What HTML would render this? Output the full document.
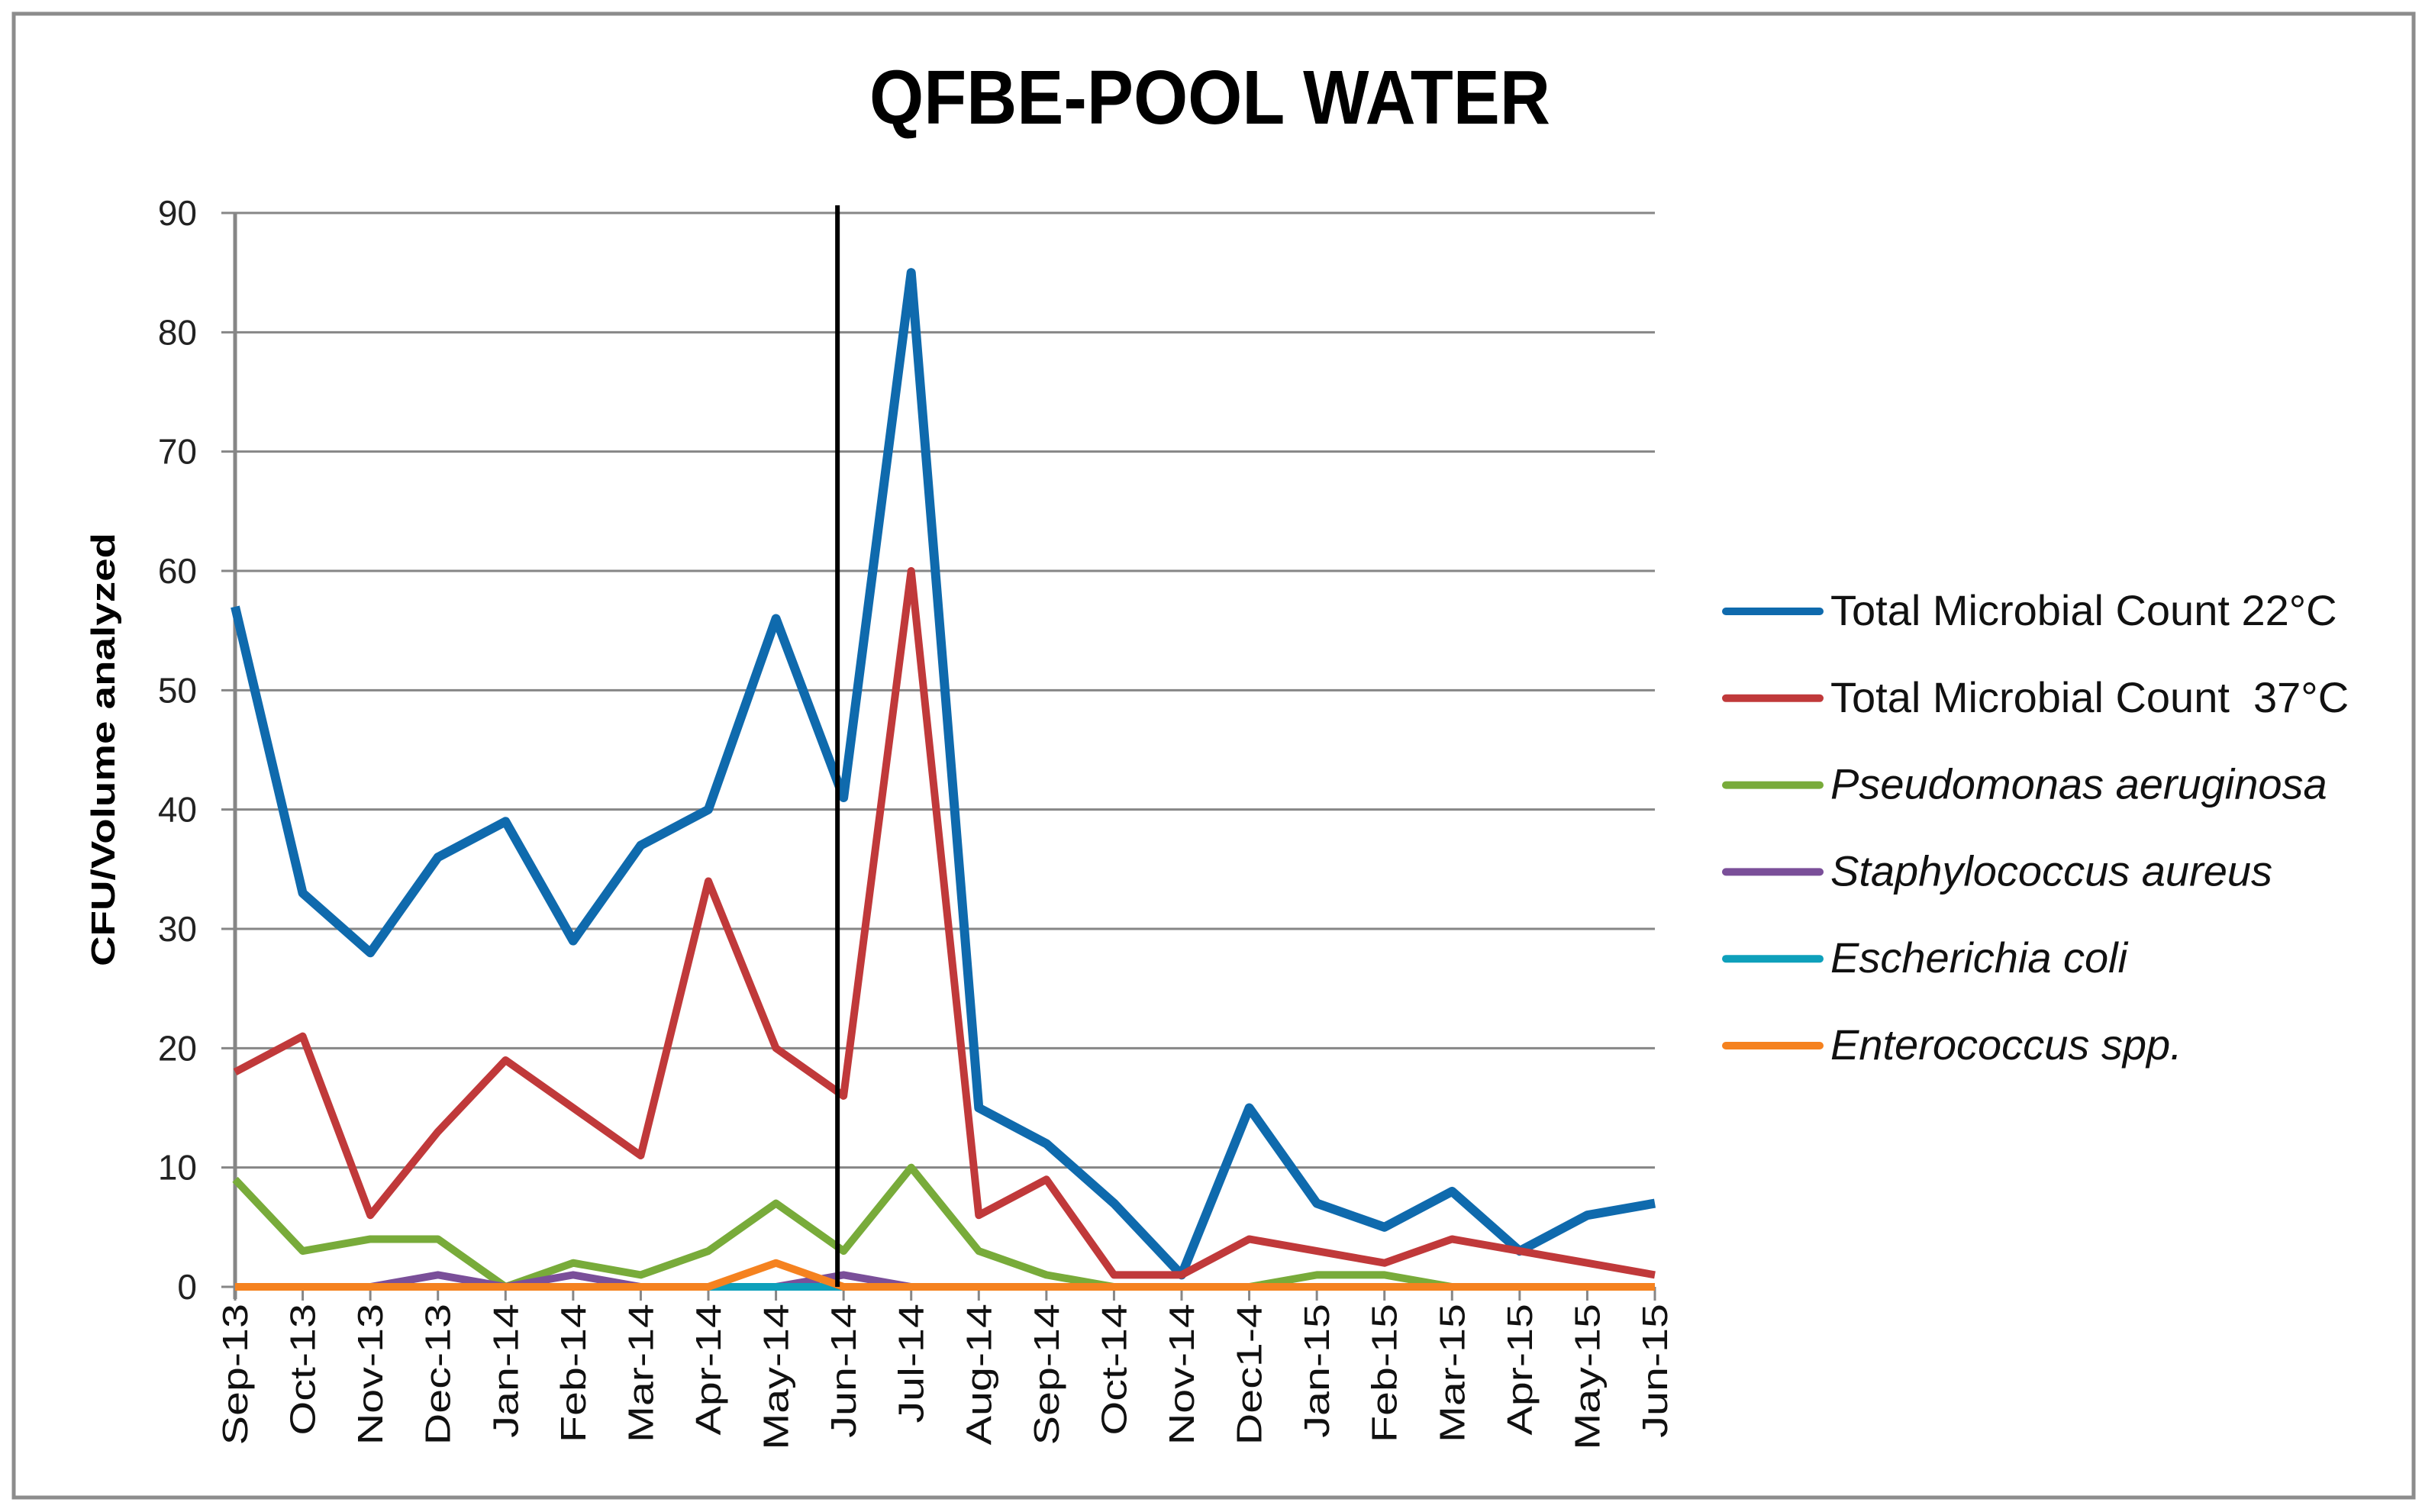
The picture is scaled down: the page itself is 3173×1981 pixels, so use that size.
<!DOCTYPE html>
<html><head><meta charset="utf-8"><style>
html,body{margin:0;padding:0;background:#fff;}
svg{display:block;}
</style></head><body>
<svg id="chart" width="3173" height="1981" xmlns="http://www.w3.org/2000/svg" font-family="Liberation Sans, sans-serif">
<rect x="18" y="18" width="3144" height="1944" fill="#fff" stroke="#8c8c8c" stroke-width="5"/>
<text x="1585" y="162" text-anchor="middle" font-weight="bold" font-size="100" textLength="892" lengthAdjust="spacingAndGlyphs">QFBE-POOL WATER</text>
<text transform="translate(150,982) rotate(-90)" text-anchor="middle" font-weight="bold" font-size="44" textLength="568" lengthAdjust="spacingAndGlyphs">CFU/Volume analyzed</text>
<g id="grid"></g><g id="axes"></g><g id="series"></g><g id="legend"></g>
</svg>
<script>
const categories=["Sep-13","Oct-13","Nov-13","Dec-13","Jan-14","Feb-14","Mar-14","Apr-14","May-14","Jun-14","Jul-14","Aug-14","Sep-14","Oct-14","Nov-14","Dec1-4","Jan-15","Feb-15","Mar-15","Apr-15","May-15","Jun-15"];
const tmc22=[57,33,28,36,39,29,37,40,56,41,85,15,12,7,1,15,7,5,8,3,6,7];
const tmc37=[18,21,6,13,19,15,11,34,20,16,60,6,9,1,1,4,3,2,4,3,2,1];
const pseudo=[9,3,4,4,0,2,1,3,7,3,10,3,1,0,0,0,1,1,0,0,0,0];
const staph=[0,0,0,1,0,1,0,0,0,1,0,0,0,0,0,0,0,0,0,0,0,0];
const ecoli=[0,0,0,0,0,0,0,0,0,0,0,0,0,0,0,0,0,0,0,0,0,0];
const entero=[0,0,0,0,0,0,0,0,2,0,0,0,0,0,0,0,0,0,0,0,0,0];
const yTicks=[0,10,20,30,40,50,60,70,80,90];
const seriesNames=["Total Microbial Count 22°C","Total Microbial Count  37°C","Pseudomonas aeruginosa","Staphylococcus aureus","Escherichia coli","Enterococcus spp."];
const markerIndex=9;

const NS="http://www.w3.org/2000/svg";
const L=308,R=2168,T=279,B=1686;
const x=i=>L+(R-L)*i/(categories.length-1);
const y=v=>B-(B-T)*v/90;
function mk(tag,attrs,parent){const e=document.createElementNS(NS,tag);for(const k in attrs)e.setAttribute(k,attrs[k]);parent.appendChild(e);return e;}
const grid=document.getElementById('grid'),axes=document.getElementById('axes'),ser=document.getElementById('series'),leg=document.getElementById('legend');
yTicks.forEach(t=>{
  const g=mk('line',{x1:L-18,x2:R,y1:y(t),y2:y(t),stroke:'#868686','stroke-width':3},grid);
  
  
  const tx=mk('text',{x:258,y:y(t)+16,'text-anchor':'end','font-size':46,fill:'#222'},axes);
  tx.textContent=t;
  
  
});
const ya=mk('line',{x1:L,x2:L,y1:T,y2:B+16,stroke:'#868686','stroke-width':5},axes);


categories.forEach((c,i)=>{
  const tk=mk('line',{x1:x(i),x2:x(i),y1:B,y2:B+18,stroke:'#868686','stroke-width':3},axes);
  
  
  const tx=mk('text',{transform:`translate(${x(i)+16},${B+22}) rotate(-90) scale(1.25,1)`,'text-anchor':'end','font-size':46,fill:'#111'},axes);
  tx.textContent=c;
  
  
});
const colors=['#0f6aad','#c0393a','#78ab3a','#7a4f99','#0ea0bb','#f5821f'];
const data=[tmc22,tmc37,pseudo,staph,ecoli,entero];
const widths=[12,10,10,10,10,10];
for(let s=0;s<data.length;s++){
  const p=mk('polyline',{points:data[s].map((v,i)=>x(i)+','+y(v)).join(' '),fill:'none',stroke:colors[s],'stroke-width':widths[s],'stroke-linejoin':'round'},ser);
  
  
}
const vl=mk('line',{x1:x(markerIndex)-8,x2:x(markerIndex)-8,y1:269,y2:B,stroke:'#000','stroke-width':6},ser);


seriesNames.forEach((n,i)=>{
  const yy=801+i*113.8;
  const ln=mk('line',{x1:2261,x2:2384,y1:yy,y2:yy,stroke:colors[i],'stroke-width':10,'stroke-linecap':'round'},leg);
  
  
  const tx=mk('text',{x:2398,y:yy+18,'font-size':56,fill:'#111','font-style':i>=2?'italic':'normal'},leg);
  tx.textContent=n;
  tx.style.whiteSpace='pre';
  tx.setAttribute('xml:space','preserve');
  
  
});
</script>
</body></html>
